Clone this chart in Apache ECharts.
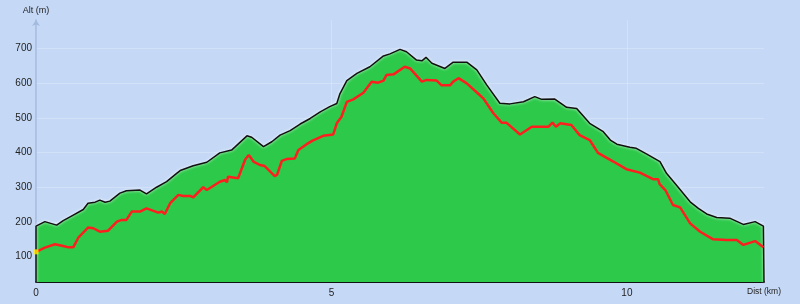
<!DOCTYPE html>
<html><head><meta charset="utf-8">
<script src="https://cdn.jsdelivr.net/npm/echarts@6/dist/echarts.min.js"></script>
<style>html,body{margin:0;padding:0;background:#c5d9f6;}#c{width:800px;height:304px;}</style>
</head><body><div id="c"></div>
<script>
// Ground profile (green area, black outline)
const groundKm  = [0.00,0.15,0.35,0.46,0.63,0.80,0.88,1.00,1.08,1.17,1.25,1.42,1.53,1.76,1.87,2.04,2.21,2.38,2.44,2.66,2.89,3.11,3.31,3.57,3.65,3.85,3.99,4.13,4.30,4.47,4.64,4.81,4.97,5.09,5.14,5.26,5.43,5.65,5.88,5.99,6.16,6.27,6.44,6.53,6.60,6.70,6.92,7.06,7.29,7.46,7.63,7.85,8.02,8.25,8.44,8.56,8.78,8.98,9.15,9.37,9.60,9.72,9.83,10.05,10.16,10.33,10.56,10.67,10.84,11.07,11.21,11.35,11.52,11.74,11.97,12.17,12.31];
const groundAlt = [188,201,191,204,220,236,254,257,263,257,260,283,290,292,281,300,316,340,348,362,372,399,407,448,444,417,431,450,463,482,498,517,532,541,568,607,628,647,678,684,697,690,666,664,674,657,642,660,660,638,594,542,540,546,561,553,554,530,527,484,460,436,424,415,412,396,374,340,306,258,239,223,213,211,193,201,188];
// Track (red line)
const trackKm  = [0.00,0.15,0.32,0.46,0.55,0.63,0.72,0.88,0.97,1.08,1.22,1.37,1.45,1.53,1.62,1.76,1.87,2.07,2.13,2.18,2.27,2.41,2.49,2.61,2.66,2.83,2.89,3.11,3.20,3.23,3.25,3.42,3.54,3.60,3.68,3.79,3.87,4.04,4.08,4.16,4.24,4.38,4.44,4.58,4.68,4.86,5.03,5.09,5.17,5.26,5.37,5.54,5.68,5.79,5.88,5.93,6.05,6.24,6.33,6.53,6.61,6.78,6.86,7.01,7.06,7.15,7.29,7.48,7.57,7.74,7.88,7.96,8.19,8.39,8.67,8.74,8.80,8.87,9.06,9.20,9.37,9.51,9.77,9.99,10.22,10.45,10.53,10.55,10.65,10.78,10.90,11.07,11.24,11.46,11.69,11.86,11.97,12.17,12.31];
const trackAlt = [114,126,136,131,127,127,156,184,182,172,175,201,206,206,230,230,239,227,230,223,254,278,275,275,271,300,292,316,321,314,330,326,380,393,374,364,361,332,336,376,381,383,407,424,434,448,452,484,503,546,553,572,604,601,607,623,625,647,642,604,609,607,594,594,604,614,599,570,556,513,486,486,452,474,474,486,474,484,479,450,436,399,374,352,342,323,323,310,292,249,242,196,172,150,148,148,134,145,127];
const yTickValues = [100,200,300,400,500,600,700];
const xTickValues = [0,5,10];
const yName = 'Alt (m)';
const xName = 'Dist (km)';

const Y_MIN = 27.2, Y_MAX = 781.5, X_MAX = 12.32;

const ground = [[groundKm[0], Y_MIN]];
groundKm.forEach((k, i) => ground.push([k, groundAlt[i]]));
ground.push([X_MAX, groundAlt[groundAlt.length - 1]]);
ground.push([X_MAX, Y_MIN]);
const track = trackKm.map((k, i) => [k, trackAlt[i]]);

const font = 'Liberation Sans, Arial, sans-serif';
const chart = echarts.init(document.getElementById('c'), null, {renderer: 'canvas'});
chart.setOption({
  backgroundColor: '#c5d9f6',
  animation: false,
  grid: {left: 36, right: 36, top: 20, bottom: 22},
  xAxis: {
    type: 'value', min: 0, max: X_MAX,
    name: xName, nameLocation: 'end', nameGap: 0,
    nameTextStyle: {fontFamily: font, fontSize: 8.5, color: '#222', align: 'center', verticalAlign: 'top', padding: [5, 0, 0, 0]},
    axisLine: {show: true, lineStyle: {color: '#111', width: 2}},
    axisTick: {show: false, customValues: xTickValues},
    axisLabel: {customValues: xTickValues, fontFamily: font, fontSize: 10, color: '#222', margin: 6},
    splitLine: {show: true, lineStyle: {color: 'rgba(255,255,255,0.22)', width: 1}}
  },
  yAxis: {
    type: 'value', min: Y_MIN, max: Y_MAX,
    name: yName, nameLocation: 'end', nameGap: 9,
    nameTextStyle: {fontFamily: font, fontSize: 9, color: '#222', align: 'center', verticalAlign: 'middle'},
    axisLine: {show: true, symbol: ['none', 'arrow'], symbolSize: [6, 6], lineStyle: {color: '#a3badf', width: 1.5}},
    axisTick: {show: false, customValues: yTickValues},
    axisLabel: {customValues: yTickValues, fontFamily: font, fontSize: 10, color: '#222', margin: 4},
    splitLine: {show: true, lineStyle: {color: 'rgba(255,255,255,0.22)', width: 1}}
  },
  series: [
    {
      type: 'line', data: ground, showSymbol: false, symbol: 'none', z: 2,
      lineStyle: {color: '#111', width: 1.5, shadowColor: 'rgba(255,255,255,0.9)', shadowBlur: 3},
      areaStyle: {color: '#2dc94b', opacity: 1, origin: 'start'}
    },
    {
      type: 'line', data: track, showSymbol: false, symbol: 'none', z: 3,
      lineStyle: {color: '#ff1e1e', width: 2.5}
    },
    {
      type: 'scatter', data: [track[0]], symbol: 'rect', symbolSize: 5, z: 4, clip: false,
      itemStyle: {color: '#ffee00'}
    }
  ]
});
</script>
</body></html>
